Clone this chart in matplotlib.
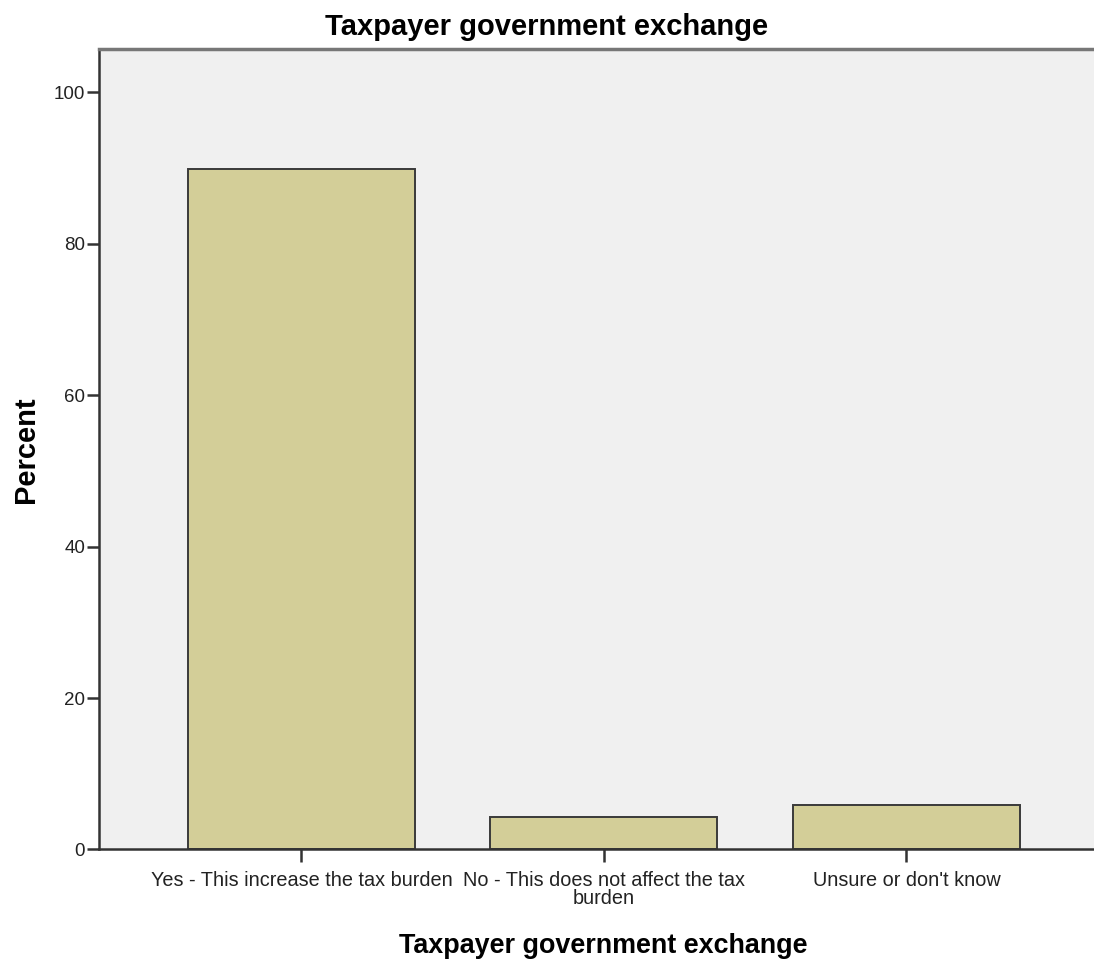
import numpy as np
import matplotlib
matplotlib.use("Agg")
import matplotlib.pyplot as plt

# data
categories = ["Yes - This increase the tax burden",
              "No - This does not affect the tax\nburden",
              "Unsure or don't know"]
percent = [89.8, 4.3, 5.9]
y_ticks = [0, 20, 40, 60, 80, 100]

plt.rcParams['font.family'] = ['Liberation Sans', 'DejaVu Sans']

fig = plt.figure(figsize=(10.94, 9.65), dpi=100)
ax = fig.add_axes([0.0905, 0.1197, 0.9095, 0.8295])
ax.set_facecolor('#F0F0F0')

x = np.arange(len(categories))
ax.bar(x, percent, width=0.75, color='#D3CE98', edgecolor='#3A3A3A', linewidth=1.4, zorder=2)

ax.set_xlim(-0.669, 2.62)
ax.set_ylim(0, 105.7)
ax.set_yticks(y_ticks)
ax.set_xticks(x)
ax.set_xticklabels(categories, fontsize=14.3, linespacing=0.95, color='#222222')
ax.tick_params(axis='y', labelsize=13.5, length=9, width=1.8, color='#333333', labelcolor='#222222', pad=1)
ax.tick_params(axis='x', length=9.5, width=1.8, color='#333333', pad=6)

for s in ['left', 'bottom']:
    ax.spines[s].set_color('#333333')
    ax.spines[s].set_linewidth(1.8)
ax.spines['right'].set_visible(False)
ax.spines['top'].set_color('#777777')
ax.spines['top'].set_linewidth(2.5)

ax.set_ylabel('Percent', fontsize=21, fontweight='bold', labelpad=10)
ax.set_xlabel('Taxpayer government exchange', fontsize=19.4, fontweight='bold')
ax.xaxis.set_label_coords(0.5065, -0.104)
fig.text(0.5, 0.972, 'Taxpayer government exchange', ha='center', va='center',
         fontsize=21, fontweight='bold')

fig.savefig('out.png', dpi=100)
